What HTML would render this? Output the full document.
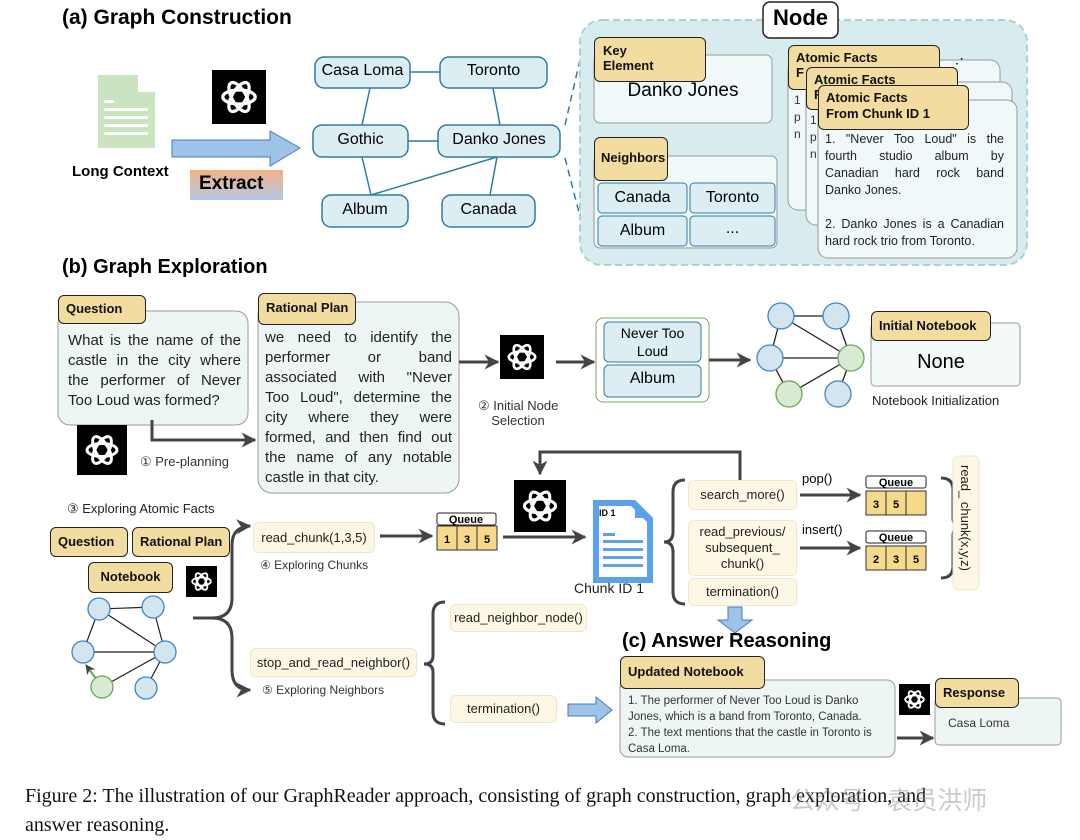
<!DOCTYPE html>
<html><head><meta charset="utf-8"><style>
body{margin:0;width:1080px;height:840px;background:#fff;position:relative;overflow:hidden;font-family:"Liberation Sans",sans-serif}
.a{position:absolute}
.j{text-align:justify;text-align-last:justify;color:#222;white-space:nowrap}
.tag{position:absolute;background:#f3dca0;border:1.5px solid #222;border-radius:6px;font-weight:bold;font-size:13px;color:#111;box-sizing:border-box;padding:4px 7px;white-space:nowrap}
.fn{position:absolute;background:#fdf7e6;border:1px solid #f1e6c8;border-radius:6px;font-size:13px;color:#222;box-sizing:border-box;text-align:center;white-space:nowrap}
.t{position:absolute;white-space:nowrap}
.q div,.rp div,.af div{text-align:justify;text-align-last:justify;white-space:normal}
</style></head><body>
<svg class="a" style="left:0;top:0" width="1080" height="840" viewBox="0 0 1080 840">
<defs>
<marker id="ar" viewBox="0 0 10 10" refX="9" refY="5" markerWidth="5" markerHeight="5" orient="auto"><path d="M0,0 L10,5 L0,10 L3,5z" fill="#444"/></marker>
<g id="gpt"><rect width="100" height="100" fill="#000"/>
<g fill="none" stroke="#fff" stroke-width="6">
<ellipse cx="50" cy="50" rx="30" ry="13"/>
<ellipse cx="50" cy="50" rx="30" ry="13" transform="rotate(60 50 50)"/>
<ellipse cx="50" cy="50" rx="30" ry="13" transform="rotate(120 50 50)"/></g></g>
<linearGradient id="gx" x1="0" y1="0" x2="0" y2="1"><stop offset="0" stop-color="#f4b183"/><stop offset="1" stop-color="#b4c7e7"/></linearGradient>
</defs>
<g transform="translate(98,75)"><path d="M0,0 H40 L57,17 V73 H0Z" fill="#c9e4bf"/><path d="M40,0 V17 H57" fill="#fff"/>
<g fill="#fff"><rect x="6" y="25" width="10" height="3"/><rect x="6" y="33" width="44" height="3"/><rect x="6" y="41" width="44" height="3"/><rect x="6" y="49" width="44" height="3"/><rect x="6" y="57" width="44" height="3"/></g></g>
<use href="#gpt" transform="translate(212,70) scale(0.54)"/>
<path d="M172,140 H270 V131 L300,148 L270,166 V157 H172Z" fill="#9dc3e6" stroke="#4a7ac0"/>
<rect x="190" y="170" width="93" height="30" fill="url(#gx)"/>
<g stroke="#2e7ca3" stroke-width="1.5">
<line x1="410" y1="72" x2="440" y2="72"/><line x1="370" y1="88" x2="362" y2="125"/><line x1="493" y1="88" x2="500" y2="125"/>
<line x1="408" y1="141" x2="438" y2="141"/><line x1="362" y1="157" x2="371" y2="195"/><line x1="497" y1="157" x2="371" y2="195"/><line x1="497" y1="157" x2="490" y2="195"/>
</g>
<g fill="#ddeef3" stroke="#2e7ca3" stroke-width="1.5">
<rect x="315" y="57" width="95" height="31" rx="9"/><rect x="440" y="57" width="107" height="31" rx="9"/>
<rect x="313" y="125" width="95" height="32" rx="9"/><rect x="438" y="125" width="122" height="32" rx="9"/>
<rect x="322" y="195" width="86" height="32" rx="9"/><rect x="442" y="195" width="93" height="32" rx="9"/></g>
<g stroke="#2e7ca3" stroke-width="1.5" stroke-dasharray="7,5"><line x1="565" y1="125" x2="585" y2="38"/><line x1="565" y1="158" x2="590" y2="255"/></g>
<rect x="580" y="20" width="447" height="245" rx="22" fill="#d8ecef" stroke="#a9d3d8" stroke-width="2" stroke-dasharray="7,4"/>
<rect x="763" y="2" width="75" height="36" rx="7" fill="#fff" stroke="#222" stroke-width="1.5"/>
<rect x="594" y="55" width="178" height="68" rx="6" fill="#f1f8f9" stroke="#999"/>
<rect x="594" y="156" width="183" height="92" rx="6" fill="#f1f8f9" stroke="#999"/>
<g fill="#ddeef3" stroke="#2e7ca3"><rect x="598" y="183" width="89" height="30" rx="4"/><rect x="690" y="183" width="85" height="30" rx="4"/><rect x="598" y="216" width="89" height="30" rx="4"/><rect x="690" y="216" width="85" height="30" rx="4"/></g>
<rect x="788" y="60" width="212" height="150" rx="10" fill="#f1f8f9" stroke="#999"/>
<rect x="806" y="82" width="206" height="143" rx="10" fill="#f1f8f9" stroke="#999"/>
<rect x="818" y="100" width="199" height="158" rx="10" fill="#f1f8f9" stroke="#999"/>
<rect x="58" y="311" width="190" height="114" rx="12" fill="#eef6f5" stroke="#999"/>
<rect x="258" y="302" width="201" height="191" rx="14" fill="#eef6f5" stroke="#999"/>
<use href="#gpt" transform="translate(77,425) scale(0.5)"/>
<path d="M152,420 V440 H255" fill="none" stroke="#444" stroke-width="3" marker-end="url(#ar)"/>
<line x1="459" y1="362" x2="498" y2="362" stroke="#444" stroke-width="3" marker-end="url(#ar)"/>
<use href="#gpt" transform="translate(500,335) scale(0.44)"/>
<line x1="556" y1="362" x2="594" y2="362" stroke="#444" stroke-width="3" marker-end="url(#ar)"/>
<rect x="596" y="318" width="113" height="84" rx="7" fill="#fff" stroke="#7aa860"/>
<g fill="#ddeef3" stroke="#2e7ca3"><rect x="604" y="322" width="97" height="40" rx="5"/><rect x="604" y="365" width="97" height="32" rx="5"/></g>
<line x1="709" y1="360" x2="750" y2="360" stroke="#444" stroke-width="3" marker-end="url(#ar)"/>
<g stroke="#222" stroke-width="1.3"><line x1="781" y1="316" x2="836" y2="316"/><line x1="781" y1="316" x2="770" y2="358"/><line x1="781" y1="316" x2="851" y2="358"/><line x1="836" y1="316" x2="851" y2="358"/><line x1="770" y1="358" x2="851" y2="358"/><line x1="770" y1="358" x2="789" y2="394"/><line x1="789" y1="394" x2="851" y2="358"/><line x1="838" y1="394" x2="851" y2="358"/></g>
<g stroke-width="1.3"><circle cx="781" cy="316" r="13" fill="#d3e5ef" stroke="#3d85c6"/><circle cx="836" cy="316" r="13" fill="#d3e5ef" stroke="#3d85c6"/><circle cx="770" cy="358" r="13" fill="#d3e5ef" stroke="#3d85c6"/><circle cx="851" cy="358" r="13" fill="#d9ead3" stroke="#6aa84f"/><circle cx="789" cy="394" r="13" fill="#d9ead3" stroke="#6aa84f"/><circle cx="838" cy="394" r="13" fill="#d3e5ef" stroke="#3d85c6"/></g>
<rect x="871" y="323" width="149" height="63" rx="4" fill="#f4faf9" stroke="#999"/>
<use href="#gpt" transform="translate(186,566) scale(0.31)"/>
<g stroke="#222" stroke-width="1.2"><line x1="99" y1="609" x2="153" y2="607"/><line x1="99" y1="609" x2="83" y2="652"/><line x1="99" y1="609" x2="165" y2="652"/><line x1="153" y1="607" x2="165" y2="652"/><line x1="83" y1="652" x2="165" y2="652"/><line x1="102" y1="687" x2="165" y2="652"/><line x1="146" y1="688" x2="165" y2="652"/></g>
<line x1="102" y1="687" x2="86" y2="665" stroke="#6aa84f" stroke-width="2" marker-end="url(#ar)"/>
<g stroke-width="1.3"><circle cx="99" cy="609" r="11" fill="#d3e5ef" stroke="#3d85c6"/><circle cx="153" cy="607" r="11" fill="#d3e5ef" stroke="#3d85c6"/><circle cx="83" cy="652" r="11" fill="#d3e5ef" stroke="#3d85c6"/><circle cx="165" cy="652" r="11" fill="#d3e5ef" stroke="#3d85c6"/><circle cx="102" cy="687" r="11" fill="#d9ead3" stroke="#6aa84f"/><circle cx="146" cy="688" r="11" fill="#d3e5ef" stroke="#3d85c6"/></g>
<g fill="none" stroke="#444" stroke-width="3">
<path d="M193,618 H212 Q232,618 232,598 V545 Q232,527 250,526" marker-end="url(#ar)"/>
<path d="M212,618 Q232,618 232,638 V670 Q232,690 250,690" marker-end="url(#ar)"/>
<line x1="380" y1="536" x2="432" y2="536" marker-end="url(#ar)"/>
<line x1="503" y1="537" x2="585" y2="537" marker-end="url(#ar)"/>
<path d="M740,480 V452 H540 V474" marker-end="url(#ar)"/>
<line x1="800" y1="495" x2="860" y2="495" marker-end="url(#ar)"/>
<line x1="800" y1="548" x2="860" y2="548" marker-end="url(#ar)"/>
<path d="M685,480 Q673,480 673,492 V532 Q673,542 664,542 Q673,542 673,552 V592 Q673,604 685,604"/>
<path d="M941,478 Q953,478 953,490 V518 Q953,527 962,527 Q953,527 953,536 V566 Q953,578 941,578"/>
<path d="M445,602 Q433,602 433,614 V656 Q433,664 424,664 Q433,664 433,672 V712 Q433,724 445,724"/>
<path d="M897,738 H933" marker-end="url(#ar)"/>
</g>
<use href="#gpt" transform="translate(514,480) scale(0.52)"/>
<g font-family="Liberation Sans" font-size="11" font-weight="bold">
<rect x="437" y="513" width="59" height="12" rx="2" fill="#fff" stroke="#222"/><text x="466" y="523" text-anchor="middle">Queue</text>
<rect x="437" y="526" width="60" height="24" fill="#f7d98b" stroke="#333"/><line x1="457" y1="526" x2="457" y2="550" stroke="#333"/><line x1="477" y1="526" x2="477" y2="550" stroke="#333"/>
<text x="447" y="543" text-anchor="middle">1</text><text x="467" y="543" text-anchor="middle">3</text><text x="487" y="543" text-anchor="middle">5</text>
<rect x="866" y="476" width="60" height="12" rx="2" fill="#fff" stroke="#222"/><text x="896" y="486" text-anchor="middle">Queue</text>
<rect x="866" y="491" width="60" height="24" fill="#f7d98b" stroke="#333"/><line x1="886" y1="491" x2="886" y2="515" stroke="#333"/><line x1="906" y1="491" x2="906" y2="515" stroke="#333"/>
<text x="876" y="508" text-anchor="middle">3</text><text x="896" y="508" text-anchor="middle">5</text>
<rect x="866" y="531" width="60" height="12" rx="2" fill="#fff" stroke="#222"/><text x="896" y="541" text-anchor="middle">Queue</text>
<rect x="866" y="546" width="60" height="24" fill="#f7d98b" stroke="#333"/><line x1="886" y1="546" x2="886" y2="570" stroke="#333"/><line x1="906" y1="546" x2="906" y2="570" stroke="#333"/>
<text x="876" y="563" text-anchor="middle">2</text><text x="896" y="563" text-anchor="middle">3</text><text x="916" y="563" text-anchor="middle">5</text>
</g>
<g transform="translate(593,500)"><path d="M0,0 H42 L60,18 V83 H0Z" fill="#5aa3ec"/><path d="M6,6 H38 L54,22 V77 H6Z" fill="#fff"/><path d="M42,0 V18 H60Z" fill="#5aa3ec"/>
<g fill="#5aa3ec"><rect x="10" y="33" width="12" height="3"/><rect x="10" y="40" width="40" height="3"/><rect x="10" y="48" width="40" height="3"/><rect x="10" y="56" width="40" height="3"/><rect x="10" y="64" width="40" height="3"/></g>
<text x="6" y="16" font-size="9" font-weight="bold" font-family="Liberation Sans">ID 1</text></g>
<rect x="953" y="456" width="26" height="134" rx="6" fill="#fdf7e6" stroke="#f1e6c8"/>
<text transform="translate(961,465) rotate(90)" font-size="13" fill="#222" font-family="Liberation Sans">read_ chunk(x,y,z)</text>
<path d="M728,607 H742 V620 H752 L735,633 L718,620 H728Z" fill="#9dc3e6" stroke="#4a7ac0"/>
<path d="M568,704 H596 V697 L612,710 L596,723 V716 H568Z" fill="#9dc3e6" stroke="#4a7ac0"/>
<rect x="620" y="680" width="275" height="77" rx="8" fill="#eef6f5" stroke="#999"/>
<use href="#gpt" transform="translate(899,684) scale(0.31)"/>
<rect x="935" y="698" width="126" height="47" rx="4" fill="#eef6f5" stroke="#999"/>
</svg>

<div class="t" style="left:62px;top:6px;font-size:21px;font-weight:bold">(a) Graph Construction</div>
<div class="t" style="left:72px;top:163px;font-size:15px;font-weight:bold">Long Context</div>
<div class="t" style="left:199px;top:173px;font-size:19px;font-weight:bold">Extract</div>
<div class="t" style="left:315px;top:62px;width:95px;text-align:center;font-size:16px">Casa Loma</div>
<div class="t" style="left:440px;top:62px;width:107px;text-align:center;font-size:16px">Toronto</div>
<div class="t" style="left:313px;top:131px;width:95px;text-align:center;font-size:16px">Gothic</div>
<div class="t" style="left:438px;top:131px;width:122px;text-align:center;font-size:16px">Danko Jones</div>
<div class="t" style="left:322px;top:201px;width:86px;text-align:center;font-size:16px">Album</div>
<div class="t" style="left:442px;top:201px;width:93px;text-align:center;font-size:16px">Canada</div>
<div class="t" style="left:763px;top:5px;width:75px;text-align:center;font-size:22px;font-weight:bold">Node</div>
<div class="tag" style="left:594px;top:37px;width:112px;height:45px;line-height:15px;padding:5px 8px">Key<br>Element</div>
<div class="t" style="left:594px;top:80px;width:178px;text-align:center;font-size:19px">Danko Jones</div>
<div class="tag" style="left:594px;top:137px;width:74px;height:44px;line-height:32px;padding:4px 6px">Neighbors</div>
<div class="t" style="left:598px;top:189px;width:89px;text-align:center;font-size:16px">Canada</div>
<div class="t" style="left:690px;top:189px;width:85px;text-align:center;font-size:16px">Toronto</div>
<div class="t" style="left:598px;top:222px;width:89px;text-align:center;font-size:16px">Album</div>
<div class="t" style="left:690px;top:220px;width:85px;text-align:center;font-size:16px">...</div>
<div class="tag" style="left:788px;top:45px;width:152px;height:45px;line-height:15px">Atomic Facts<br>F</div>
<div class="t" style="left:950px;top:55px;font-size:14px">⋰</div>
<div class="t" style="left:794px;top:92px;font-size:12px;line-height:17px;color:#333">1<br>p<br>n</div>
<div class="tag" style="left:806px;top:67px;width:152px;height:43px;line-height:15px">Atomic Facts<br>F</div>
<div class="t" style="left:810px;top:112px;font-size:12px;line-height:17px;color:#333">1<br>p<br>n</div>
<div class="tag" style="left:818px;top:85px;width:151px;height:45px;line-height:16px">Atomic Facts<br>From Chunk ID 1</div>
<div class="a af" style="left:825px;top:131px;width:179px;font-size:12.5px;line-height:17px;color:#222">
<div>1. "Never Too Loud" is the</div><div>fourth studio album by</div><div>Canadian hard rock band</div><div style="text-align-last:left">Danko Jones.</div><div>&nbsp;</div><div>2. Danko Jones is a Canadian</div><div style="text-align-last:left">hard rock trio from Toronto.</div></div>

<div class="t" style="left:62px;top:256px;font-size:20px;font-weight:bold">(b) Graph Exploration</div>
<div class="tag" style="left:58px;top:295px;width:88px;height:29px;line-height:18px">Question</div>
<div class="a q" style="left:68px;top:331px;width:173px;font-size:15px;line-height:20px;color:#222">
<div>What is the name of the</div><div>castle in the city where</div><div>the performer of Never</div><div style="text-align-last:left">Too Loud was formed?</div></div>
<div class="t" style="left:140px;top:454px;font-size:13px;color:#333">① Pre-planning</div>
<div class="tag" style="left:258px;top:293px;width:98px;height:32px;line-height:20px">Rational Plan</div>
<div class="a rp" style="left:265px;top:328px;width:187px;font-size:15px;line-height:20px;color:#222">
<div>we need to identify the</div><div>performer or band</div><div>associated with "Never</div><div>Too Loud", determine the</div><div>city where they were</div><div>formed, and then find out</div><div>the name of any notable</div><div style="text-align-last:left">castle in that city.</div></div>
<div class="t" style="left:478px;top:398px;width:80px;text-align:center;font-size:13px;line-height:15px;color:#333">② Initial Node<br>Selection</div>
<div class="t" style="left:604px;top:324px;width:97px;text-align:center;font-size:14px;line-height:18px">Never Too<br>Loud</div>
<div class="t" style="left:604px;top:370px;width:97px;text-align:center;font-size:16px">Album</div>
<div class="tag" style="left:871px;top:311px;width:120px;height:30px;line-height:19px">Initial Notebook</div>
<div class="t" style="left:871px;top:351px;width:140px;text-align:center;font-size:20px">None</div>
<div class="t" style="left:872px;top:393px;font-size:13px;color:#222">Notebook Initialization</div>
<div class="t" style="left:67px;top:501px;font-size:13px;color:#222">③ Exploring Atomic Facts</div>
<div class="tag" style="left:50px;top:527px;width:78px;height:30px;line-height:19px">Question</div>
<div class="tag" style="left:132px;top:527px;width:98px;height:30px;line-height:19px">Rational Plan</div>
<div class="tag" style="left:88px;top:562px;width:85px;height:31px;line-height:20px;text-align:center">Notebook</div>
<div class="fn" style="left:253px;top:522px;width:122px;height:31px;line-height:29px">read_chunk(1,3,5)</div>
<div class="t" style="left:260px;top:558px;font-size:12px;color:#333">④ Exploring Chunks</div>
<div class="t" style="left:574px;top:580px;font-size:14px;color:#222">Chunk ID 1</div>
<div class="fn" style="left:688px;top:480px;width:109px;height:30px;line-height:28px">search_more()</div>
<div class="fn" style="left:688px;top:520px;width:109px;height:56px;line-height:16px;padding-top:3px">read_previous/<br>subsequent_<br>chunk()</div>
<div class="fn" style="left:688px;top:578px;width:109px;height:28px;line-height:26px">termination()</div>
<div class="t" style="left:802px;top:471px;font-size:13px">pop()</div>
<div class="t" style="left:802px;top:522px;font-size:13px">insert()</div>
<div class="t" style="left:622px;top:630px;font-size:20px;font-weight:bold">(c) Answer Reasoning</div>
<div class="fn" style="left:450px;top:604px;width:137px;height:28px;line-height:26px">read_neighbor_node()</div>
<div class="fn" style="left:250px;top:648px;width:167px;height:29px;line-height:27px">stop_and_read_neighbor()</div>
<div class="t" style="left:262px;top:683px;font-size:12px;color:#333">⑤ Exploring Neighbors</div>
<div class="fn" style="left:450px;top:695px;width:107px;height:28px;line-height:26px">termination()</div>
<div class="tag" style="left:620px;top:656px;width:145px;height:33px;line-height:22px">Updated Notebook</div>
<div class="t" style="left:628px;top:693px;font-size:11.5px;line-height:16px;color:#333">1. The performer of Never Too Loud is Danko<br>Jones, which is a band from Toronto, Canada.<br>2. The text mentions that the castle in Toronto is<br>Casa Loma.</div>
<div class="tag" style="left:935px;top:678px;width:84px;height:30px;line-height:19px">Response</div>
<div class="t" style="left:948px;top:716px;font-size:12px;color:#333">Casa Loma</div>
<div class="t" style="left:25px;top:785px;font-family:'Liberation Serif',serif;font-size:20px;color:#111">Figure 2: The illustration of our GraphReader approach, consisting of graph construction, graph exploration, and</div>
<div class="t" style="left:25px;top:814px;font-family:'Liberation Serif',serif;font-size:20px;color:#111">answer reasoning.</div>
<div class="t" style="left:790px;top:781px;font-family:'Liberation Sans','Noto Sans CJK SC',sans-serif;font-size:25px;color:rgba(150,150,150,0.5)">公众号 · 袁员洪师</div>
</body></html>
